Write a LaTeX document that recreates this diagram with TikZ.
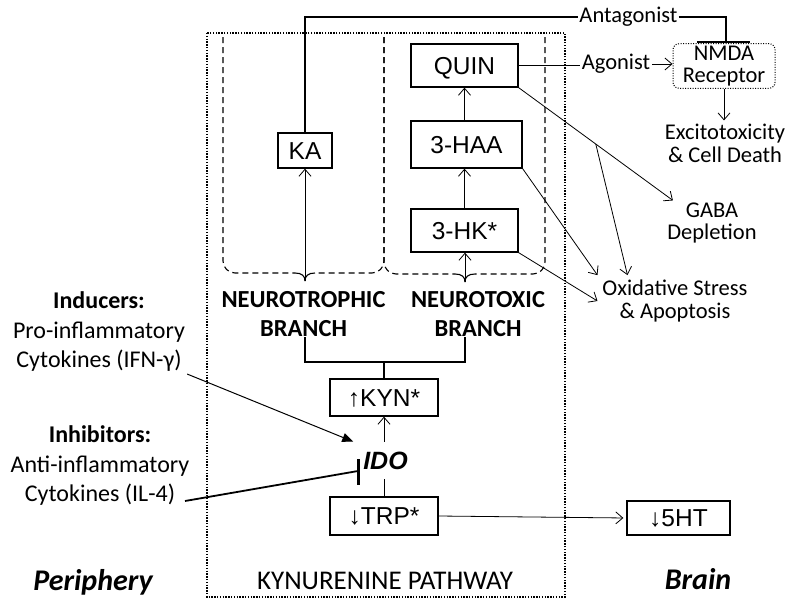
\documentclass[tikz,border=0pt]{standalone}
\usepackage{fontspec}
\setmainfont{Liberation Sans}
\newfontfamily\calfont{Carlito}
\usetikzlibrary{arrows.meta}
\begin{document}
\begin{tikzpicture}[x=1pt,y=-1pt,
  box/.style={draw, line width=1.3pt, font=\fontsize{24.5}{28}\selectfont, inner sep=0pt, text height=17.5pt, text depth=0pt},
  arr/.style={line width=0.8pt, -{Straight Barb[length=7pt,width=12pt]}},
  lbl/.style={font=\calfont\fontsize{24}{29.5}\selectfont, align=center, inner sep=2pt},
  blbl/.style={font=\calfont\bfseries\fontsize{24.5}{29}\selectfont, align=center, inner sep=0pt},
  rlbl/.style={font=\calfont\fontsize{22.5}{22.5}\selectfont, align=center, inner sep=2pt},
  brc/.style={line width=1.1pt, dash pattern=on 6pt off 4pt},
]
\useasboundingbox (0,0) rectangle (795,608);
\fill[white] (0,0) rectangle (795,608);

% outer dotted frame
\draw[line width=1.4pt, dash pattern=on 1.4pt off 1.4pt] (207,33) rectangle (565,597);

% boxes
\node[box, minimum width=54pt, minimum height=35pt] (KA) at (305,150.5) {KA};
\node[box, minimum width=107pt, minimum height=43pt] (QUIN) at (464.5,65.5) {QUIN};
\node[box, minimum width=111pt, minimum height=47pt] (HAA) at (466.5,144.5) {3-HAA};
\node[box, minimum width=107pt, minimum height=43pt] (HK) at (464.5,230.5) {3-HK*};
\node[box, minimum width=108pt, minimum height=37pt] (KYN) at (384,397.5) {↑KYN*};
\node[box, minimum width=108pt, minimum height=38pt] (TRP) at (384,516) {↓TRP*};
\node[box, minimum width=103pt, minimum height=34pt] (HT) at (678.5,518) {↓5HT};

\draw[arr] (HAA.north -| QUIN.south) -- (QUIN.south);
\draw[arr] (HK.north) -- (HK.north |- HAA.south);

% dashed braces
\coordinate (cuspL) at (305,281);
\coordinate (cuspR) at (465,282);
\draw[brc, rounded corners=12pt] (223,37) -- (223,273) -- (295,273);
\draw[line width=1.1pt] (295,273) .. controls (302,273) and (305,276) .. (cuspL);
\draw[line width=1.1pt] (cuspL) .. controls (305,276) and (308,273) .. (315,273);
\draw[brc, rounded corners=12pt] (384,37) -- (384,273) -- (315,273);
\draw[brc, rounded corners=12pt] (384,37) -- (384,274) -- (455,274);
\draw[line width=1.1pt] (455,274) .. controls (462,274) and (465,277) .. (cuspR);
\draw[line width=1.1pt] (cuspR) .. controls (465,277) and (468,274) .. (475,274);
\draw[brc, rounded corners=12pt] (545,37) -- (545,274) -- (475,274);

\draw[arr] (cuspL) -- (cuspL |- KA.south);
\draw[arr] (cuspR) -- (cuspR |- HK.south);

% branch labels
\node[blbl] (ntr) at (303.5,314.5) {NEUROTROPHIC\\BRANCH};
\node[blbl] (ntx) at (478,314.5) {NEUROTOXIC\\BRANCH};
\coordinate (j) at (384,362);
\draw[line width=1.3pt] (ntr.south -| cuspL) |- (j) -| (ntx.south -| cuspR);
\draw[line width=1.3pt] (j) -- (KYN.north);

% IDO
\node[font=\bfseries\itshape\fontsize{25}{30}\selectfont, inner sep=0pt, outer sep=10pt] (ido) at (385.5,460.5) {IDO};
\draw[arr] (ido.north -| KYN.south) -- (KYN.south);
\draw[line width=1pt] (ido.south -| TRP.north) -- (TRP.north);

% inducers / inhibitors
\node[lbl] (ind) at (99,332) {\textbf{Inducers:}\\Pro-inflammatory\\Cytokines (IFN-γ)};
\node[lbl] (inh) at (100,466) {\textbf{Inhibitors:}\\Anti-inflammatory\\Cytokines (IL-4)};
\draw[line width=1pt, -{Triangle[length=11pt,width=9pt]}] (ind.south east) -- (ido.north west);
\coordinate (inhS) at (185,501);
\coordinate (inhE) at (358,471);
\coordinate (inhT) at (358,459);
\coordinate (inhB) at (358,485);
\draw[line width=1.8pt] (inhS) -- (inhE);
\draw[line width=3pt] (inhT) -- (inhB);

% right side
\node[rlbl, inner sep=1pt] (antag) at (628.5,17) {Antagonist};
\coordinate (tbar) at (726,42);
\coordinate (tbl) at (697,42);
\coordinate (tbr) at (750,42);
\draw[line width=1.5pt] (KA.north) |- (antag.west);
\draw[line width=1.5pt] (antag.east) -| (tbar);
\draw[line width=2.5pt] (tbl) -- (tbr);

\node[rlbl, draw, line width=1pt, dash pattern=on 1pt off 1.5pt, rounded corners=6pt, minimum width=102pt, minimum height=44pt] (nmda) at (724,66) {NMDA\\Receptor};
\node[rlbl] (agon) at (616,64) {Agonist};
\draw[line width=1pt] (QUIN.east) -- (QUIN.east -| agon.west);
\draw[arr] (agon.east) -- (agon.east -| nmda.west);

\node[rlbl, outer sep=2pt] (exc) at (725,143.5) {Excitotoxicity\\\& Cell Death};
\draw[arr] (nmda.south) -- (nmda.south |- exc.north);

\node[rlbl] (gaba) at (712,223) {GABA\\Depletion};
\node[rlbl, outer sep=3pt] (ox) at (675,301) {Oxidative Stress\\\& Apoptosis};

\draw[arr] (QUIN.south east) -- coordinate[pos=0.5] (br) (gaba.150);
\draw[arr] (br) -- ([xshift=30pt]ox.north west);
\draw[arr] (HAA.south east) -- (ox.north west);
\draw[arr] (HK.south east) -- (ox.west);

% TRP -> 5HT
\draw[arr, shorten >=3pt] (TRP.east) -- (HT.west);

% bottom labels
\node[font=\calfont\bfseries\itshape\fontsize{30}{36}\selectfont] (per) at (93,582) {Periphery};
\node[font=\calfont\bfseries\itshape\fontsize{30}{36}\selectfont] (brain) at (698,579) {Brain};
\node[font=\calfont\fontsize{27}{30}\selectfont] (kp) at (385,580.5) {KYNURENINE PATHWAY};
\end{tikzpicture}
\end{document}
